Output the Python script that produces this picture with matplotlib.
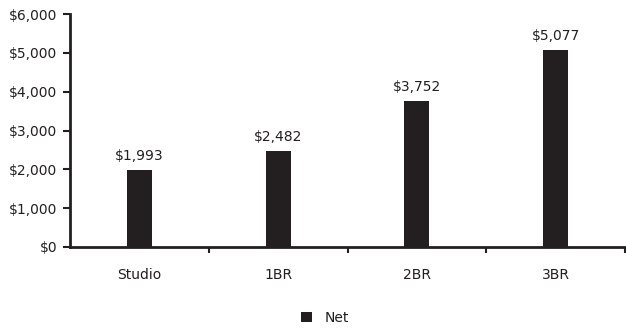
import matplotlib
matplotlib.use("Agg")
import matplotlib.pyplot as plt
from matplotlib.ticker import FuncFormatter, FixedLocator
import numpy as np

categories = ["Studio", "1BR", "2BR", "3BR"]
net_values = [1993, 2482, 3752, 5077]
y_ticks = [0, 1000, 2000, 3000, 4000, 5000, 6000]

plt.rcParams["font.family"] = ["DejaVu Sans"]
text_color = "#231f20"
bar_color = "#231f20"
fs = 10

fig = plt.figure(figsize=(6.26, 3.29), dpi=100)
ax = fig.add_axes([70 / 626, 1 - 247 / 329, (625 - 70) / 626, (247 - 14) / 329])

x = np.arange(len(categories))
bars = ax.bar(x, net_values, width=0.18, color=bar_color, label="Net", zorder=3)

for rect, v in zip(bars, net_values):
    ax.annotate(f"${v:,}", (rect.get_x() + rect.get_width() / 2, v),
                xytext=(0, 5), textcoords="offset points",
                ha="center", va="bottom", fontsize=fs, color=text_color)

ax.set_xlim(-0.5, len(categories) - 0.5)
ax.set_ylim(0, 6000)
ax.set_yticks(y_ticks)
ax.yaxis.set_major_formatter(FuncFormatter(lambda v, p: f"${int(v):,}"))

# category labels centred, tick marks at category boundaries
ax.set_xticks(x)
ax.set_xticklabels(categories)
ax.xaxis.set_minor_locator(FixedLocator(np.arange(0.5, len(categories), 1.0)))
ax.tick_params(axis="x", which="major", length=0, pad=15, labelsize=fs, labelcolor=text_color)
ax.tick_params(axis="x", which="minor", length=4, width=1.5, color=bar_color, direction="out")
ax.tick_params(axis="y", length=5, width=1.5, color=bar_color, labelsize=fs,
               labelcolor=text_color, pad=4)

for side in ("top", "right"):
    ax.spines[side].set_visible(False)
for side in ("left", "bottom"):
    ax.spines[side].set_linewidth(2)
    ax.spines[side].set_color(bar_color)

leg = fig.legend(handles=[bars], labels=["Net"], loc="center",
                 bbox_to_anchor=(325 / 626, 1 - 318 / 329), frameon=False,
                 fontsize=fs, handlelength=0.8, handleheight=0.8, handletextpad=0.9)
for t in leg.get_texts():
    t.set_color(text_color)

fig.savefig("out.png", dpi=100)
